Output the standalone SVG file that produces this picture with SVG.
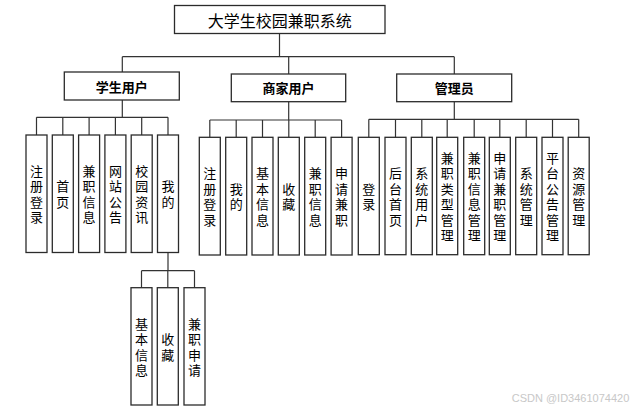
<svg xmlns="http://www.w3.org/2000/svg" width="639" height="410" viewBox="0 0 639 410">
<style>
.box{fill:#fff;stroke:#2b2b2b;stroke-width:1.3}
.ln{fill:none;stroke:#333;stroke-width:1.2}
.t{font-family:"Noto Sans CJK SC","Microsoft YaHei",sans-serif;fill:#000;text-anchor:middle;dominant-baseline:central}
.v{font-size:13px}
.h{font-size:13px;font-weight:bold}
.title{font-size:16px}
.wm{font-family:"Liberation Sans",Arial,sans-serif;font-size:11px;fill:#c8c8c8}
</style>
<rect width="639" height="410" fill="#fff"/>
<g id="connectors">
<path class="ln" d="M279.5 33.5V56.7M122.3 56.7H454.3M122.3 56.7V72M288.7 56.7V74M454.3 56.7V74"/>
<path class="ln" d="M122.3 100V117.3M36.5 117.3H168M36.5 117.3V135M62.8 117.3V135M89.1 117.3V135M115.4 117.3V135M141.7 117.3V135M168 117.3V135"/>
<path class="ln" d="M288.7 101.7V120M209.8 120H341.6M209.8 120V137.3M236.2 120V137.3M262.5 120V137.3M288.8 120V137.3M315.2 120V137.3M341.6 120V137.3"/>
<path class="ln" d="M454.3 101.7V119.3M368.8 119.3H578.7M368.8 119.3V137.3M395.5 119.3V137.3M421.8 119.3V137.3M447.2 119.3V137.3M474.2 119.3V137.3M499.8 119.3V137.3M526.2 119.3V137.3M552.5 119.3V137.3M578.7 119.3V137.3"/>
<path class="ln" d="M168 252.5V270.7M141.5 270.7H194.5M141.5 270.7V287.7M167.8 270.7V287.7M194.5 270.7V287.7"/>
</g>
<g id="root"><rect class="box" x="174.5" y="5.5" width="210.5" height="28"/><text class="t title" x="279.75" y="19.5">大学生校园兼职系统</text></g>
<g id="student"><rect class="box" x="64.3" y="72" width="115" height="28"/><text class="t h" x="121.8" y="86">学生用户</text></g>
<g id="merchant"><rect class="box" x="231.3" y="74" width="114.4" height="27.7"/><text class="t h" x="288.5" y="87.8">商家用户</text></g>
<g id="admin"><rect class="box" x="396.7" y="74" width="115" height="27.7"/><text class="t h" x="454.2" y="87.8">管理员</text></g>

<g id="s1"><rect class="box" x="26" y="135" width="21" height="117.5"/><text class="t v" x="36.5 36.5 36.5 36.5" y="170.45 185.95 201.45 216.95">注册登录</text></g>
<g id="s2"><rect class="box" x="52.3" y="135" width="21" height="117.5"/><text class="t v" x="62.8 62.8" y="185.95 201.45">首页</text></g>
<g id="s3"><rect class="box" x="78.6" y="135" width="21" height="117.5"/><text class="t v" x="89.1 89.1 89.1 89.1" y="170.45 185.95 201.45 216.95">兼职信息</text></g>
<g id="s4"><rect class="box" x="104.9" y="135" width="21" height="117.5"/><text class="t v" x="115.4 115.4 115.4 115.4" y="170.45 185.95 201.45 216.95">网站公告</text></g>
<g id="s5"><rect class="box" x="131.2" y="135" width="21" height="117.5"/><text class="t v" x="141.7 141.7 141.7 141.7" y="170.45 185.95 201.45 216.95">校园资讯</text></g>
<g id="s6"><rect class="box" x="157.5" y="135" width="21" height="117.5"/><text class="t v" x="168 168" y="185.95 201.45">我的</text></g>

<g id="m1"><rect class="box" x="199.3" y="137.3" width="21" height="117.7"/><text class="t v" x="209.8 209.8 209.8 209.8" y="172.95 188.45 203.95 219.45">注册登录</text></g>
<g id="m2"><rect class="box" x="225.7" y="137.3" width="21" height="117.7"/><text class="t v" x="236.2 236.2" y="188.45 203.95">我的</text></g>
<g id="m3"><rect class="box" x="252" y="137.3" width="21" height="117.7"/><text class="t v" x="262.5 262.5 262.5 262.5" y="172.95 188.45 203.95 219.45">基本信息</text></g>
<g id="m4"><rect class="box" x="278.3" y="137.3" width="21" height="117.7"/><text class="t v" x="288.8 288.8" y="188.45 203.95">收藏</text></g>
<g id="m5"><rect class="box" x="304.7" y="137.3" width="21" height="117.7"/><text class="t v" x="315.2 315.2 315.2 315.2" y="172.95 188.45 203.95 219.45">兼职信息</text></g>
<g id="m6"><rect class="box" x="331.1" y="137.3" width="21" height="117.7"/><text class="t v" x="341.6 341.6 341.6 341.6" y="172.95 188.45 203.95 219.45">申请兼职</text></g>

<g id="a1"><rect class="box" x="358.3" y="137.3" width="21" height="117.4"/><text class="t v" x="368.8 368.8" y="188 203.5">登录</text></g>
<g id="a2"><rect class="box" x="385" y="137.3" width="21" height="117.4"/><text class="t v" x="395.5 395.5 395.5 395.5" y="172.5 188 203.5 219">后台首页</text></g>
<g id="a3"><rect class="box" x="411.3" y="137.3" width="21" height="117.4"/><text class="t v" x="421.8 421.8 421.8 421.8" y="172.5 188 203.5 219">系统用户</text></g>
<g id="a4"><rect class="box" x="436.7" y="137.3" width="21" height="117.4"/><text class="t v" x="447.2 447.2 447.2 447.2 447.2 447.2" y="157 172.5 188 203.5 219 234.5">兼职类型管理</text></g>
<g id="a5"><rect class="box" x="463.7" y="137.3" width="21" height="117.4"/><text class="t v" x="474.2 474.2 474.2 474.2 474.2 474.2" y="157 172.5 188 203.5 219 234.5">兼职信息管理</text></g>
<g id="a6"><rect class="box" x="489.3" y="137.3" width="21" height="117.4"/><text class="t v" x="499.8 499.8 499.8 499.8 499.8 499.8" y="157 172.5 188 203.5 219 234.5">申请兼职管理</text></g>
<g id="a7"><rect class="box" x="515.7" y="137.3" width="21" height="117.4"/><text class="t v" x="526.2 526.2 526.2 526.2" y="172.5 188 203.5 219">系统管理</text></g>
<g id="a8"><rect class="box" x="542" y="137.3" width="21" height="117.4"/><text class="t v" x="552.5 552.5 552.5 552.5 552.5 552.5" y="157 172.5 188 203.5 219 234.5">平台公告管理</text></g>
<g id="a9"><rect class="box" x="568.2" y="137.3" width="21" height="117.4"/><text class="t v" x="578.7 578.7 578.7 578.7" y="172.5 188 203.5 219">资源管理</text></g>

<g id="u1"><rect class="box" x="131" y="287.7" width="21" height="117.3"/><text class="t v" x="141.5 141.5 141.5 141.5" y="323.05 338.55 354.05 369.55">基本信息</text></g>
<g id="u2"><rect class="box" x="157.3" y="287.7" width="21" height="117.3"/><text class="t v" x="167.8 167.8" y="338.55 354.05">收藏</text></g>
<g id="u3"><rect class="box" x="184" y="287.7" width="21" height="117.3"/><text class="t v" x="194.5 194.5 194.5 194.5" y="323.05 338.55 354.05 369.55">兼职申请</text></g>

<text class="wm" x="511.7" y="401.5">CSDN @ID3461074420</text>
</svg>
